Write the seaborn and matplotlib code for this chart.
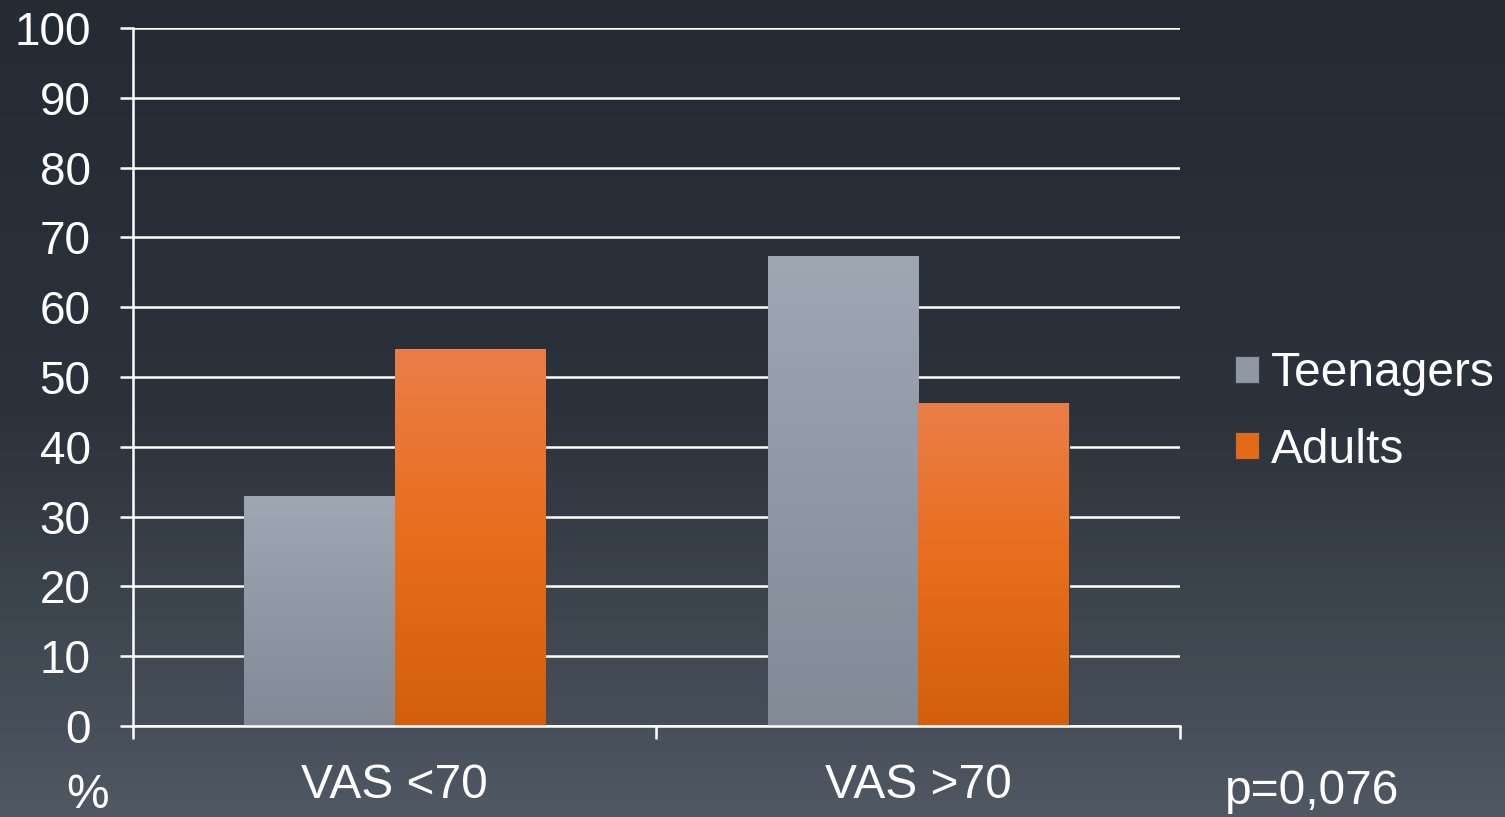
import numpy as np
import pandas as pd
import matplotlib
matplotlib.use("Agg")
import matplotlib.pyplot as plt
import seaborn as sns
from matplotlib.colors import LinearSegmentedColormap
from matplotlib.patches import Patch

categories = ["VAS <70", "VAS >70"]
groups = ["Teenagers", "Adults"]
teenagers = [33.0, 67.4]
adults = [54.0, 46.3]
yticks = [0, 10, 20, 30, 40, 50, 60, 70, 80, 90, 100]

df = pd.DataFrame({
    "cat": categories * 2,
    "group": [groups[0]] * 2 + [groups[1]] * 2,
    "value": teenagers + adults,
})

sns.set_theme(style="white")
plt.rcParams["font.family"] = ["Liberation Sans", "DejaVu Sans"]

W, H = 1505, 817
fig = plt.figure(figsize=(W / 100, H / 100), dpi=100)

# background gradient
bg = fig.add_axes([0, 0, 1, 1], zorder=-10)
bg.axis("off")
bgcmap = LinearSegmentedColormap.from_list("bg", ["#252b34", "#2b323b", "#4f5863"])
grad = np.linspace(0, 1, 256).reshape(-1, 1)
bg.imshow(grad, aspect="auto", cmap=bgcmap, extent=[0, 1, 0, 1], origin="upper")
bg.set_xlim(0, 1)
bg.set_ylim(0, 1)

ax = fig.add_axes([133 / W, 1 - 726 / H, (1180 - 133) / W, (726 - 28) / H])
ax.set_facecolor("none")

palette = {"Teenagers": "#8f98a4", "Adults": "#e56a17"}
sns.barplot(data=df, x="cat", y="value", hue="group", order=categories,
            hue_order=groups, palette=palette, width=0.575, ax=ax,
            edgecolor="#3a3f45", linewidth=0.8, legend=False, zorder=3)

grad_cmaps = {
    "Teenagers": LinearSegmentedColormap.from_list("t", ["#9ea7b2", "#8f98a4", "#828a96"]),
    "Adults": LinearSegmentedColormap.from_list("a", ["#eb7e48", "#e86d1c", "#d25f0b"]),
}
for cont, g in zip(ax.containers, groups):
    for p in cont:
        x0, y0 = p.get_x(), p.get_y()
        w, h = p.get_width(), p.get_height()
        im = ax.imshow(np.linspace(0, 1, 256).reshape(-1, 1), aspect="auto",
                       cmap=grad_cmaps[g], extent=[x0, x0 + w, y0, y0 + h],
                       origin="upper", zorder=3.5)
        im.set_clip_path(p)

ax.set_xlim(-0.5, 1.5)
ax.set_ylim(0, 100)
ax.set_yticks(yticks)
ax.set_yticklabels([str(t) for t in yticks])
ax.grid(axis="y", color="white", linewidth=1.8, zorder=1)
ax.set_axisbelow(True)
for s in ["top", "right"]:
    ax.spines[s].set_visible(False)
for s in ["left", "bottom"]:
    ax.spines[s].set_color("white")
    ax.spines[s].set_linewidth(1.8)
    ax.spines[s].set_zorder(5)

ax.tick_params(axis="y", colors="white", labelsize=33, length=9.5, width=1.8,
               pad=21, direction="out", left=True)
ax.tick_params(axis="x", which="major", colors="white", labelsize=34.5, length=0, pad=27)
ax.set_xticks([-0.5, 0.5, 1.5], minor=True)
ax.tick_params(axis="x", which="minor", colors="white", length=9, width=1.8,
               direction="out", bottom=True)
ax.set_xlabel("")
ax.set_ylabel("")

fig.text(88 / W, 1 - 795 / H, "%", color="white", fontsize=34.5, ha="center", va="center")
fig.text(1312 / W, 1 - 792 / H, "p=0,076", color="white", fontsize=34.5, ha="center", va="center")

handles = [Patch(facecolor=palette[g], edgecolor="#3a3f45", linewidth=0.8) for g in groups]
leg = fig.legend(handles, groups, loc="center left", bbox_to_anchor=(1235 / W, 1 - 412 / H),
                 frameon=False, fontsize=34.5, handlelength=0.5, handleheight=0.5,
                 handletextpad=0.25, labelspacing=0.65, borderpad=0, borderaxespad=0)
for t in leg.get_texts():
    t.set_color("white")

fig.savefig("out.png", dpi=100)
